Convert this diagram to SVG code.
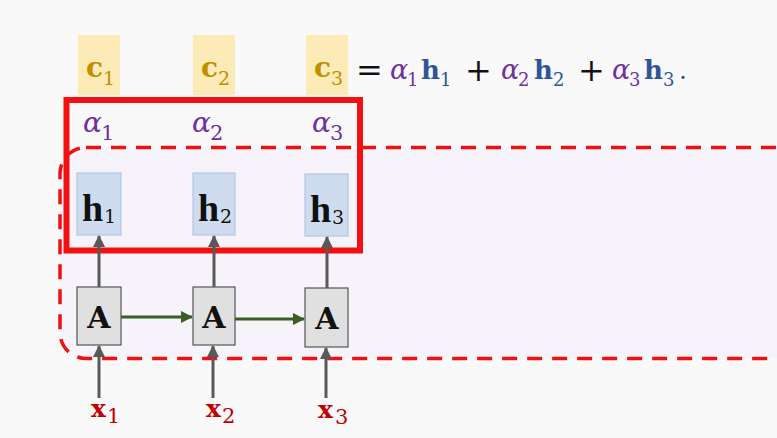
<svg xmlns="http://www.w3.org/2000/svg" width="777" height="438" viewBox="0 0 777 438">
<defs>
<style>
.sf{font-family:"DejaVu Serif","Liberation Serif",serif}
.lf{font-family:"Liberation Serif","DejaVu Serif",serif}
.b{font-weight:bold}
.it{font-style:italic}
.cbox{fill:#fcebb6}
.hbox{fill:#cfdcef;stroke:#a8c0e2;stroke-width:1}
.abox{fill:#e0e0e0;stroke:#555555;stroke-width:1.2}
.gc{fill:#bf8f00}
.pu{fill:#7030a0}
.bl{fill:#2f5597}
.xr{fill:#c00000}
.dk{fill:#111111}
.va{stroke:#595959;stroke-width:3;fill:none}
.ha{stroke:#3b5e25;stroke-width:3;fill:none}
</style>
<marker id="ag" markerWidth="12" markerHeight="12" refX="11" refY="6" orient="auto" markerUnits="userSpaceOnUse"><path d="M0,0 L12,6 L0,12 Z" fill="#595959"/></marker>
<marker id="agr" markerWidth="12" markerHeight="12" refX="11" refY="6" orient="auto" markerUnits="userSpaceOnUse"><path d="M0,0 L12,6 L0,12 Z" fill="#3b5e25"/></marker>
</defs>
<rect x="0" y="0" width="777" height="438" fill="#f9f9f9"/>
<g id="region">
<rect x="60" y="147.5" width="760" height="211" rx="26" fill="#f7f3fa" stroke="#ee1111" stroke-width="3.5" stroke-dasharray="15 10"/>
</g>
<g id="attention-box">
<rect x="66.5" y="100" width="293.5" height="150.5" fill="none" stroke="#f21010" stroke-width="6"/>
</g>
<g id="c1"><rect class="cbox" x="78" y="35" width="42" height="60"/><text class="sf b gc" x="86" y="77" font-size="28">c</text><text class="sf gc" x="103" y="85" font-size="19">1</text></g>
<g id="c2"><rect class="cbox" x="193" y="35" width="42" height="60"/><text class="sf b gc" x="201" y="77" font-size="28">c</text><text class="sf gc" x="218" y="85" font-size="19">2</text></g>
<g id="c3"><rect class="cbox" x="306" y="35" width="42" height="60"/><text class="sf b gc" x="314" y="77" font-size="28">c</text><text class="sf gc" x="331" y="85" font-size="19">3</text></g>
<g id="equation">
<text class="sf dk" x="356" y="81" font-size="32">=</text>
<text class="sf it pu" x="390" y="79" font-size="27">α</text><text class="sf pu" x="407" y="86" font-size="18">1</text>
<text class="sf b bl" x="421" y="79" font-size="26">h</text><text class="sf bl" x="440" y="86" font-size="18">1</text>
<text class="sf dk" x="465" y="81" font-size="32">+</text>
<text class="sf it pu" x="501" y="79" font-size="27">α</text><text class="sf pu" x="518" y="86" font-size="18">2</text>
<text class="sf b bl" x="534" y="79" font-size="26">h</text><text class="sf bl" x="553" y="86" font-size="18">2</text>
<text class="sf dk" x="578" y="81" font-size="32">+</text>
<text class="sf it pu" x="612" y="79" font-size="27">α</text><text class="sf pu" x="629" y="86" font-size="18">3</text>
<text class="sf b bl" x="644" y="79" font-size="26">h</text><text class="sf bl" x="663" y="86" font-size="18">3</text>
<text class="sf bl" x="679" y="79" font-size="25">.</text>
</g>
<g id="alpha1"><text class="sf it pu" x="83" y="132" font-size="28">α</text><text class="sf pu" x="101" y="140" font-size="21">1</text></g>
<g id="alpha2"><text class="sf it pu" x="192" y="132" font-size="28">α</text><text class="sf pu" x="210" y="140" font-size="21">2</text></g>
<g id="alpha3"><text class="sf it pu" x="312" y="132" font-size="28">α</text><text class="sf pu" x="330" y="140" font-size="21">3</text></g>
<g id="h1"><rect class="hbox" x="77" y="173" width="44" height="62"/><text class="lf b dk" x="82" y="221" font-size="38">h</text><text class="sf dk" x="104" y="223" font-size="19">1</text></g>
<g id="h2"><rect class="hbox" x="193" y="173" width="42" height="62"/><text class="lf b dk" x="198" y="221" font-size="38">h</text><text class="sf dk" x="220" y="223" font-size="19">2</text></g>
<g id="h3"><rect class="hbox" x="305" y="174" width="43" height="62"/><text class="lf b dk" x="310" y="222" font-size="38">h</text><text class="sf dk" x="332" y="224" font-size="19">3</text></g>
<g id="A1"><rect class="abox" x="77" y="287" width="44" height="58"/><text class="sf b dk" x="99" y="328" font-size="30" text-anchor="middle">A</text></g>
<g id="A2"><rect class="abox" x="193" y="287" width="42" height="58"/><text class="sf b dk" x="214" y="328" font-size="30" text-anchor="middle">A</text></g>
<g id="A3"><rect class="abox" x="305" y="288" width="43" height="59"/><text class="sf b dk" x="327" y="329" font-size="30" text-anchor="middle">A</text></g>
<g id="x1"><text class="sf b xr" x="91" y="417" font-size="25">x</text><text class="sf xr" x="107" y="423" font-size="21">1</text></g>
<g id="x2"><text class="sf b xr" x="206" y="417" font-size="25">x</text><text class="sf xr" x="222" y="423" font-size="21">2</text></g>
<g id="x3"><text class="sf b xr" x="318" y="418" font-size="25">x</text><text class="sf xr" x="335" y="424" font-size="21">3</text></g>
<g id="connectors">
<line class="va" x1="99" y1="287" x2="99" y2="236" marker-end="url(#ag)"/>
<line class="va" x1="214" y1="287" x2="214" y2="236" marker-end="url(#ag)"/>
<line class="va" x1="327" y1="288" x2="327" y2="237" marker-end="url(#ag)"/>
<line class="ha" x1="121" y1="317" x2="192" y2="317" marker-end="url(#agr)"/>
<line class="ha" x1="235" y1="319" x2="304" y2="319" marker-end="url(#agr)"/>
<line class="va" x1="99" y1="398" x2="99" y2="346" marker-end="url(#ag)"/>
<line class="va" x1="213" y1="398" x2="213" y2="346" marker-end="url(#ag)"/>
<line class="va" x1="326" y1="398" x2="326" y2="348" marker-end="url(#ag)"/>
</g>
</svg>
